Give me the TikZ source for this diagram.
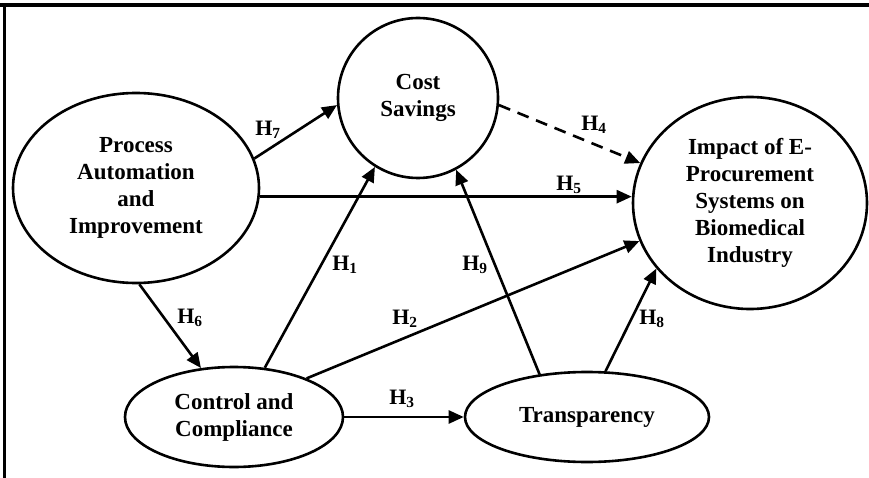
\documentclass[tikz,border=0pt]{standalone}
\usepackage{fontspec}
\setmainfont{Liberation Serif}
\usetikzlibrary{shapes.geometric,arrows.meta}
\begin{document}
\begin{tikzpicture}[x=1pt,y=-1pt,
  ell/.style={draw,ellipse,line width=2.6pt,inner sep=0pt,align=center,font=\fontsize{23}{27}\selectfont\bfseries},
  conn/.style={line width=2.6pt,-{Triangle[length=15pt,width=13pt]}},
  hl/.style={font=\fontsize{22}{24}\selectfont\bfseries,inner sep=0pt}]
\useasboundingbox (0,0) rectangle (869,478);
% frame
\draw[line width=4pt] (0,5) -- (869,5);
\draw[line width=3pt] (4,5) -- (4,478);
% nodes
\node[ell,minimum width=246pt,minimum height=190pt] (proc) at (136,188) {Process\\Automation\\and\\Improvement};
\node[ell,minimum width=160pt,minimum height=160pt] (cost) at (418,98) {Cost\\Savings};
\node[ell,minimum width=234pt,minimum height=212pt] (imp) at (750,203) {Impact of E-\\Procurement\\Systems on\\Biomedical\\Industry};
\node[ell,minimum width=218pt,minimum height=100pt] (ctrl) at (234,417) {Control and\\Compliance};
\node[ell,minimum width=244pt,minimum height=90pt] (trans) at (587,417) {Transparency};
% connectors
\draw[conn] (proc.14) -- (cost.185);
\draw[conn] (proc.-4.2) -- (proc.-4.2 -| imp.west);
\draw[conn,dash pattern=on 12pt off 8pt] (cost.-5) -- (imp.160.5);
\draw[conn] (ctrl.58) -- (cost.238);
\draw[conn] (ctrl.28) -- (imp.199.7);
\draw[conn] (trans.138) -- (cost.-62);
\draw[conn] (trans.68) -- (imp.215.8);
\draw[conn] (proc.-88) -- (ctrl.124);
\draw[conn] (ctrl.east) -- (trans.west);
% labels
\node[hl] (h7) at (268,130) {H\textsubscript{7}};
\node[hl] (h5) at (569,185) {H\textsubscript{5}};
\node[hl] (h4) at (594,125) {H\textsubscript{4}};
\node[hl] (h1) at (345,265) {H\textsubscript{1}};
\node[hl] (h9) at (475,265) {H\textsubscript{9}};
\node[hl] (h2) at (405,319) {H\textsubscript{2}};
\node[hl] (h8) at (652,319) {H\textsubscript{8}};
\node[hl] (h6) at (190,318) {H\textsubscript{6}};
\node[hl] (h3) at (402,399) {H\textsubscript{3}};
\end{tikzpicture}
\end{document}
